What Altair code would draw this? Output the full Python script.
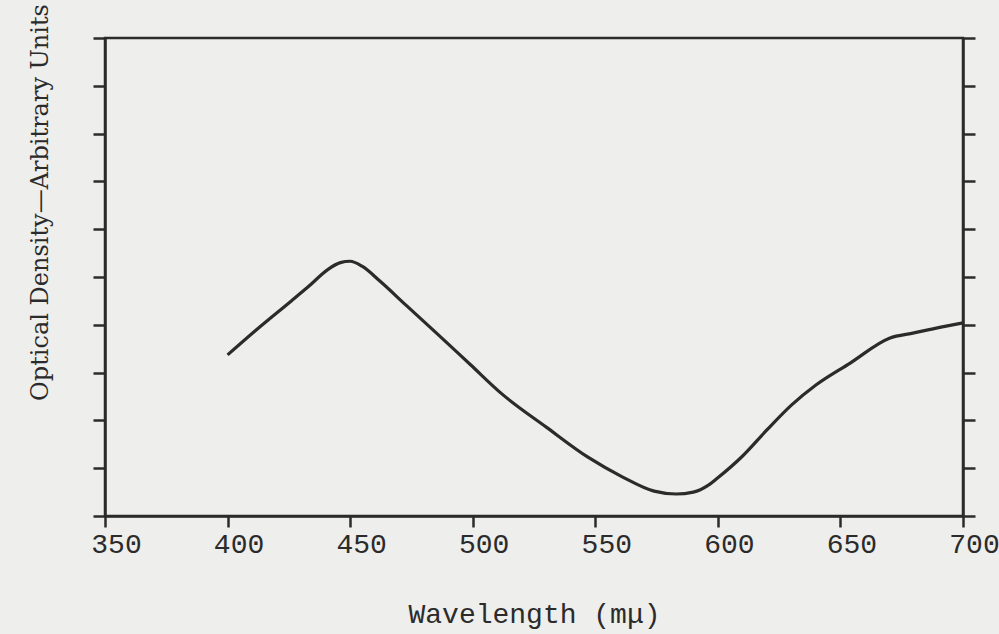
import altair as alt
import pandas as pd

# Absorption spectrum: wavelength (mμ) vs. optical density (arbitrary units)
wavelength = [400, 413, 426, 433, 441, 446, 450, 455, 462, 473, 486, 499,
              512, 530, 547, 561, 574, 583, 590, 596, 600, 610, 620, 630,
              640, 654, 670, 680, 691, 700]
density = [3.37, 3.95, 4.50, 4.80, 5.16, 5.30, 5.33, 5.22, 4.92, 4.40, 3.79,
           3.17, 2.55, 1.86, 1.23, 0.82, 0.52, 0.46, 0.50, 0.64, 0.80, 1.25,
           1.80, 2.32, 2.74, 3.20, 3.72, 3.83, 3.95, 4.04]

x_ticks = [350, 400, 450, 500, 550, 600, 650, 700]
y_ticks = list(range(0, 11))

df = pd.DataFrame({"wavelength": wavelength, "density": density})

INK = "#2b2b2b"
PAPER = "#eeeeec"
MONO = "Liberation Mono"
SERIF = "DejaVu Serif"

x_enc = alt.X(
    "wavelength:Q",
    scale=alt.Scale(domain=[350, 700], nice=False, zero=False),
    axis=alt.Axis(
        values=x_ticks,
        title="Wavelength (mμ)",
        titleFont=MONO,
        titleFontSize=28,
        titleFontWeight="normal",
        titleColor=INK,
        titlePadding=42,
        labelFont=MONO,
        labelFontSize=28,
        labelColor=INK,
        labelOffset=11,
        labelPadding=3,
        labelFlush=False,
        labelOverlap=False,
        tickSize=11,
        tickWidth=2.5,
        tickColor=INK,
        domainColor=INK,
        domainWidth=2.5,
        grid=False,
    ),
)

y_scale = alt.Scale(domain=[0, 10], nice=False, zero=True)

curve = alt.Chart(df).mark_line(
    color=INK, strokeWidth=3.2, interpolate="monotone"
).encode(
    x=x_enc,
    y=alt.Y(
        "density:Q",
        scale=y_scale,
        axis=alt.Axis(
            values=y_ticks,
            labels=False,
            title="Optical Density—Arbitrary Units",
            titleFont=SERIF,
            titleFontSize=24,
            titleFontWeight="normal",
            titleColor=INK,
            titleAngle=-90,
            titleAlign="center",
            titleBaseline="middle",
            titleX=-65,
            titleY=164,
            tickSize=12,
            tickWidth=2.5,
            tickColor=INK,
            domainColor=INK,
            domainWidth=2.5,
            grid=False,
        ),
    ),
)

# Invisible copy of the curve that carries the right-hand tick axis
right_axis = alt.Chart(df).mark_line(opacity=0).encode(
    x=x_enc,
    y=alt.Y(
        "density:Q",
        scale=y_scale,
        axis=alt.Axis(
            orient="right",
            values=y_ticks,
            labels=False,
            title=None,
            tickSize=12,
            tickWidth=2.5,
            tickColor=INK,
            domainColor=INK,
            domainWidth=2.5,
            grid=False,
        ),
    ),
)

chart = (
    alt.layer(curve, right_axis)
    .resolve_scale(y="independent")
    .properties(
        width=858,
        height=478,
        background=PAPER,
        autosize=alt.AutoSizeParams(type="none"),
        padding={"left": 105, "top": 38, "right": 36, "bottom": 118},
    )
    .configure_view(stroke=INK, strokeWidth=2.5)
)

chart.save("out.html", embed_options={"renderer": "svg", "actions": False})
